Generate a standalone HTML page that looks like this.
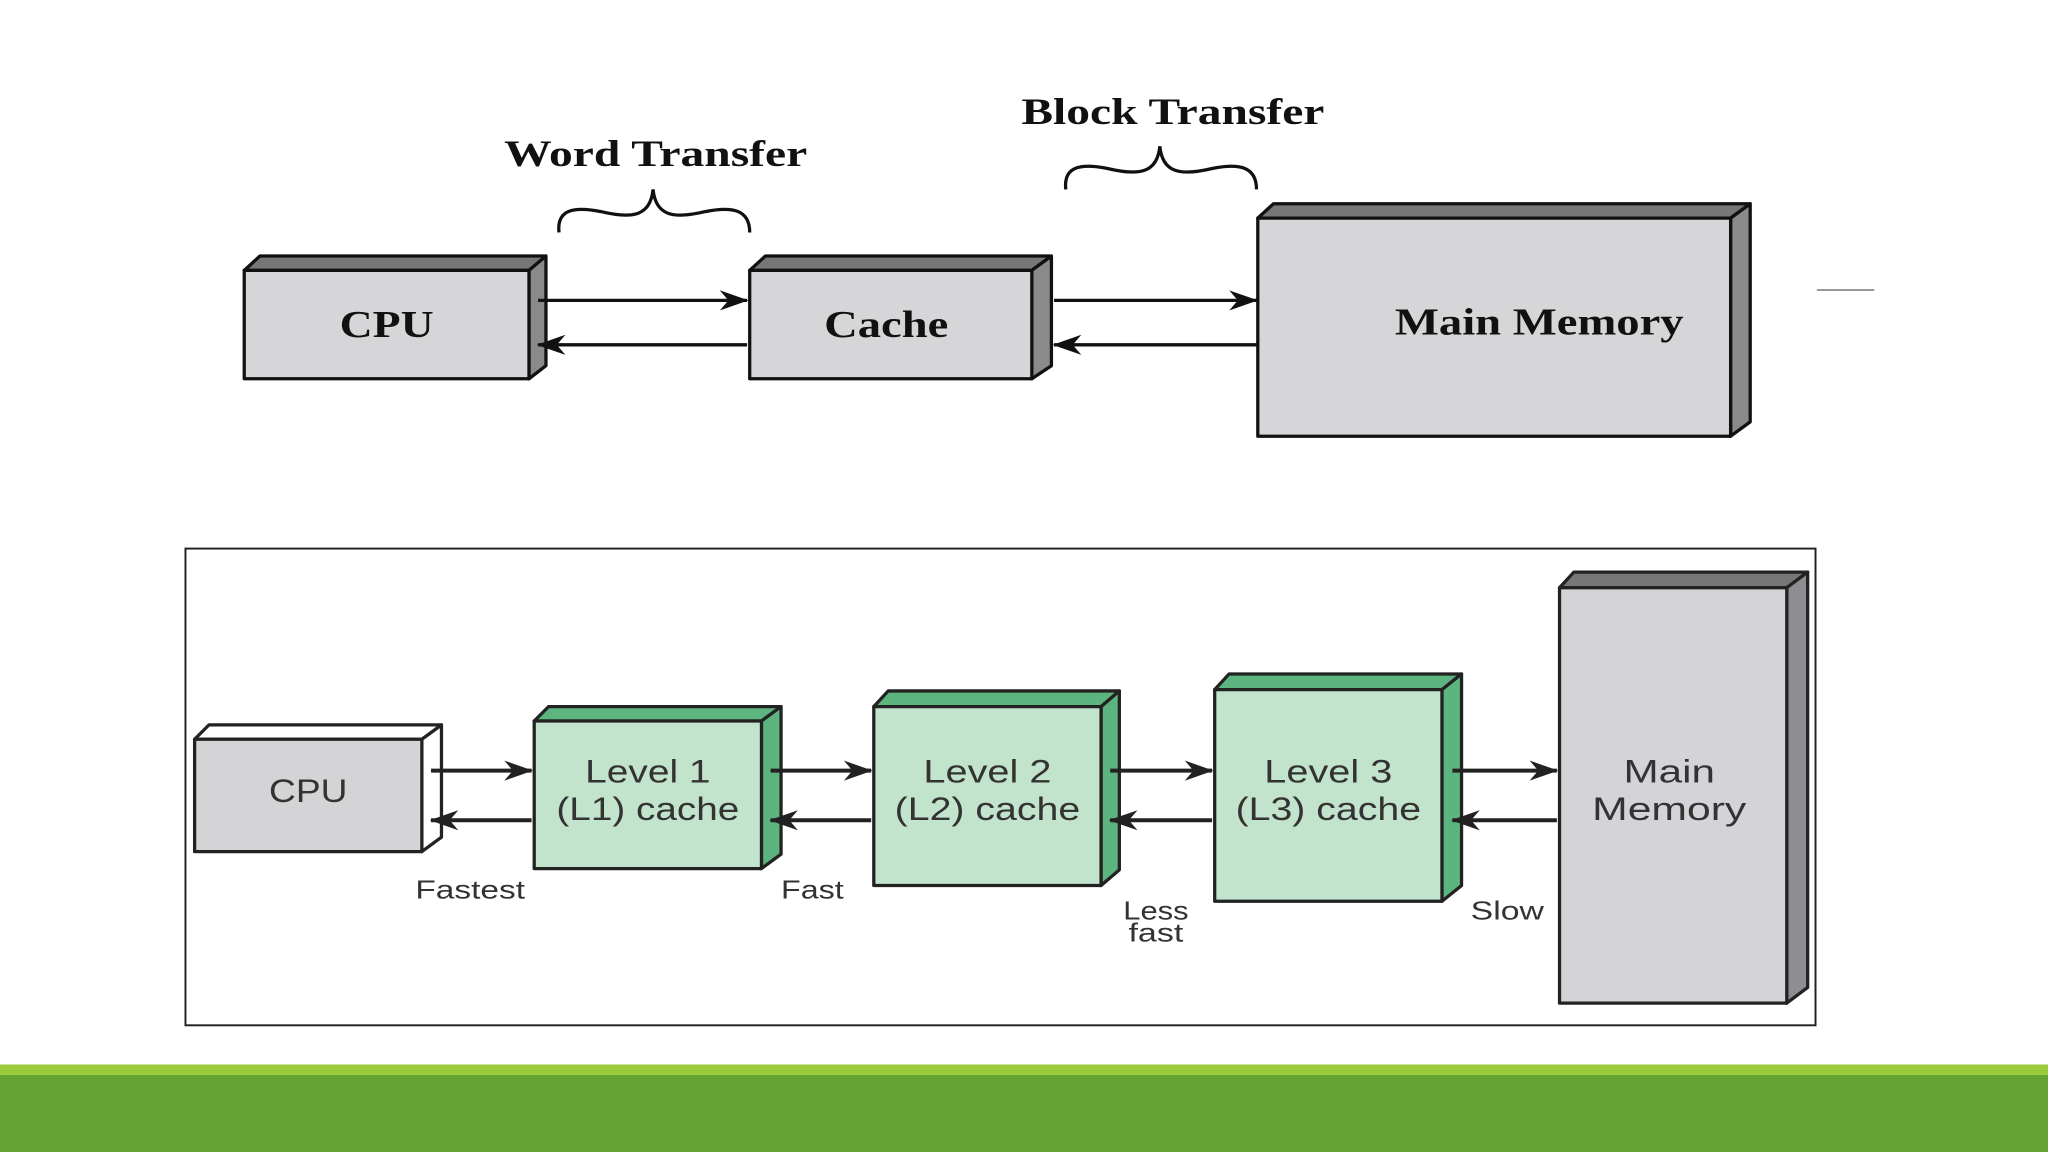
<!DOCTYPE html>
<html><head><meta charset="utf-8"><style>
html,body{margin:0;padding:0;background:#fff;}
svg{display:block;}
</style></head><body>
<svg width="2048" height="1152" viewBox="0 0 1568 882" xmlns="http://www.w3.org/2000/svg">
<defs>
<marker id="ah" viewBox="0 0 20 14" refX="19" refY="7" markerWidth="22" markerHeight="16" markerUnits="userSpaceOnUse" orient="auto">
<path d="M0,0 L20,7 L0,14 L6,7 Z" fill="#111"/>
</marker>
<marker id="ah2" viewBox="0 0 20 14" refX="19" refY="7" markerWidth="22" markerHeight="16" markerUnits="userSpaceOnUse" orient="auto">
<path d="M0,0 L20,7 L0,14 L6,7 Z" fill="#222"/>
</marker>
</defs>
<rect width="1568" height="882" fill="#fff"/>
<g stroke="#111" stroke-width="2.5" stroke-linejoin="round">
<polygon points="187,207 199,196 418,196 405,207" fill="#777"/>
<polygon points="405,207 418,196 418,280 405,290" fill="#8a8a8a"/>
<rect x="187" y="207" width="218" height="83" fill="#d6d6d8"/>
<polygon points="574,207 586,196 805,196 790,207" fill="#777"/>
<polygon points="790,207 805,196 805,280 790,290" fill="#8a8a8a"/>
<rect x="574" y="207" width="216" height="83" fill="#d6d6d8"/>
<polygon points="963,167 975,156 1340,156 1325,167" fill="#777"/>
<polygon points="1325,167 1340,156 1340,323 1325,334" fill="#8a8a8a"/>
<rect x="963" y="167" width="362" height="167" fill="#d6d6d8"/>
</g>
<g stroke="#111" stroke-width="2.5" fill="none">
<line x1="412" y1="230" x2="572" y2="230" marker-end="url(#ah)"/>
<line x1="572" y1="264" x2="412" y2="264" marker-end="url(#ah)"/>
<line x1="807" y1="230" x2="962" y2="230" marker-end="url(#ah)"/>
<line x1="962" y1="264" x2="807" y2="264" marker-end="url(#ah)"/>
<path d="M428,178 C426,160 440,158 460,162 C485,168 498,165 500,145 C502,165 515,168 540,162 C560,158 574,160 574,178"/>
<path d="M816,145 C814,127 828,125 848,129 C873,135 886,132 888,112 C890,132 903,135 928,129 C948,125 962,127 962,145"/>
</g>
<g font-family="Liberation Serif, serif" font-weight="bold" fill="#111">
<text x="386" y="127" font-size="28" textLength="232" lengthAdjust="spacingAndGlyphs">Word Transfer</text>
<text x="782" y="95" font-size="28" textLength="232" lengthAdjust="spacingAndGlyphs">Block Transfer</text>
<text x="260" y="258" font-size="29" textLength="72" lengthAdjust="spacingAndGlyphs">CPU</text>
<text x="631" y="258" font-size="29" textLength="95" lengthAdjust="spacingAndGlyphs">Cache</text>
<text x="1068" y="256" font-size="29" textLength="221" lengthAdjust="spacingAndGlyphs">Main Memory</text>
</g>
<line x1="1391" y1="222" x2="1435" y2="222" stroke="#999" stroke-width="1.5"/>

<rect x="142" y="420" width="1248" height="365" fill="#fff" stroke="#222" stroke-width="1.5"/>
<g stroke="#222" stroke-width="2.5" stroke-linejoin="round">
<polygon points="149,566 160,555 338,555 323,566" fill="#fff"/>
<polygon points="323,566 338,555 338,641 323,652" fill="#fff"/>
<rect x="149" y="566" width="174" height="86" fill="#d4d4d6"/>
<polygon points="409,552 420,541 598,541 583,552" fill="#5cb57f"/>
<polygon points="583,552 598,541 598,654 583,665" fill="#5cb57f"/>
<rect x="409" y="552" width="174" height="113" fill="#c2e3cc"/>
<polygon points="669,541 680,529 857,529 843,541" fill="#5cb57f"/>
<polygon points="843,541 857,529 857,666 843,678" fill="#5cb57f"/>
<rect x="669" y="541" width="174" height="137" fill="#c2e3cc"/>
<polygon points="930,528 941,516 1119,516 1104,528" fill="#5cb57f"/>
<polygon points="1104,528 1119,516 1119,678 1104,690" fill="#5cb57f"/>
<rect x="930" y="528" width="174" height="162" fill="#c2e3cc"/>
<polygon points="1194,450 1205,438 1384,438 1368,450" fill="#777"/>
<polygon points="1368,450 1384,438 1384,756 1368,768" fill="#8e8e92"/>
<rect x="1194" y="450" width="174" height="318" fill="#d4d4d8"/>
</g>
<g stroke="#222" stroke-width="3">
<line x1="330" y1="590" x2="407" y2="590" marker-end="url(#ah2)"/>
<line x1="407" y1="628" x2="330" y2="628" marker-end="url(#ah2)"/>
<line x1="590" y1="590" x2="667" y2="590" marker-end="url(#ah2)"/>
<line x1="667" y1="628" x2="590" y2="628" marker-end="url(#ah2)"/>
<line x1="850" y1="590" x2="928" y2="590" marker-end="url(#ah2)"/>
<line x1="928" y1="628" x2="850" y2="628" marker-end="url(#ah2)"/>
<line x1="1112" y1="590" x2="1192" y2="590" marker-end="url(#ah2)"/>
<line x1="1192" y1="628" x2="1112" y2="628" marker-end="url(#ah2)"/>
</g>
<g font-family="Liberation Sans, sans-serif" fill="#333" text-anchor="middle" lengthAdjust="spacingAndGlyphs">
<text x="236" y="614" font-size="25" textLength="60" lengthAdjust="spacingAndGlyphs">CPU</text>
<text x="496" y="599" font-size="25" textLength="96" lengthAdjust="spacingAndGlyphs">Level 1</text>
<text x="496" y="628" font-size="25" textLength="140" lengthAdjust="spacingAndGlyphs">(L1) cache</text>
<text x="756" y="599" font-size="25" textLength="98" lengthAdjust="spacingAndGlyphs">Level 2</text>
<text x="756" y="628" font-size="25" textLength="142" lengthAdjust="spacingAndGlyphs">(L2) cache</text>
<text x="1017" y="599" font-size="25" textLength="98" lengthAdjust="spacingAndGlyphs">Level 3</text>
<text x="1017" y="628" font-size="25" textLength="142" lengthAdjust="spacingAndGlyphs">(L3) cache</text>
<text x="1278" y="599" font-size="25" textLength="70" lengthAdjust="spacingAndGlyphs">Main</text>
<text x="1278" y="628" font-size="25" textLength="118" lengthAdjust="spacingAndGlyphs">Memory</text>
<text x="360" y="688" font-size="20" textLength="84" lengthAdjust="spacingAndGlyphs">Fastest</text>
<text x="622" y="688" font-size="20" textLength="48" lengthAdjust="spacingAndGlyphs">Fast</text>
<text x="885" y="704" font-size="20" textLength="50" lengthAdjust="spacingAndGlyphs">Less</text>
<text x="885" y="721" font-size="20" textLength="42" lengthAdjust="spacingAndGlyphs">fast</text>
<text x="1154" y="704" font-size="20" textLength="56" lengthAdjust="spacingAndGlyphs">Slow</text>
</g>
<rect x="0" y="815" width="1568" height="8" fill="#9bcb3a"/>
<rect x="0" y="823" width="1568" height="59" fill="#65a335"/>
</svg>
</body></html>
